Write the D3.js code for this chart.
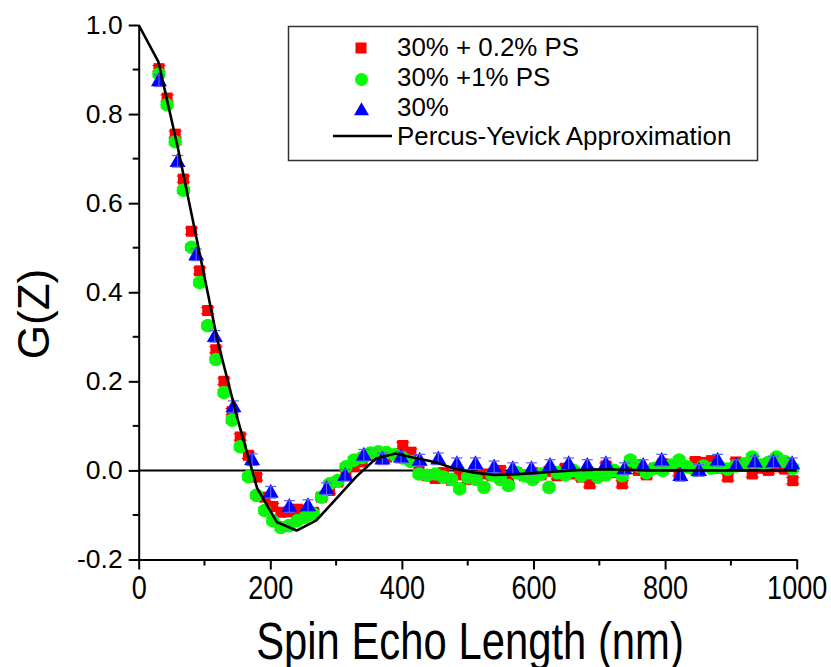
<!DOCTYPE html>
<html>
<head>
<meta charset="utf-8">
<script src="https://cdn.jsdelivr.net/npm/d3@7"></script>
<style>
  html, body { margin: 0; padding: 0; background: #fff; }
  svg { display: block; }
</style>
</head>
<body>
<svg id="chart" width="831" height="667"></svg>
<script>
// ---- data ----
const zFine = [30.8, 43.2, 55.5, 67.9, 80.2, 92.6, 104.9, 117.3, 129.6, 142.0, 154.3, 166.7, 179.0, 191.4, 203.7, 216.1, 228.4, 240.8, 253.1, 265.5, 277.8, 290.2, 302.5, 314.9, 327.2, 339.6, 351.9, 364.3, 376.6, 389.0, 401.3, 413.7, 426.0, 438.4, 450.7, 463.1, 475.4, 487.8, 500.1, 512.5, 524.8, 537.2, 549.5, 561.9, 574.2, 586.6, 598.9, 611.3, 623.6, 636.0, 648.3, 660.7, 673.0, 685.4, 697.7, 710.1, 722.4, 734.8, 747.1, 759.5, 771.8, 784.2, 796.5, 808.9, 821.2, 833.6, 845.9, 858.3, 870.6, 883.0, 895.3, 907.7, 920.0, 932.4, 944.7, 957.1, 969.4, 981.8, 994.1];

const gRed = [0.902, 0.836, 0.755, 0.654, 0.537, 0.448, 0.359, 0.271, 0.200, 0.132, 0.075, 0.034, -0.015, -0.060, -0.081, -0.094, -0.093, -0.087, -0.089, -0.094, -0.060, -0.045, -0.026, -0.008, 0.008, 0.019, 0.034, 0.032, 0.030, 0.036, 0.056, 0.041, 0.005, -0.012, -0.018, -0.005, -0.022, -0.010, -0.020, -0.015, -0.008, -0.012, 0.000, -0.022, -0.005, -0.012, -0.005, -0.010, -0.002, -0.012, 0.005, -0.008, -0.015, -0.030, -0.008, 0.010, -0.005, -0.030, 0.012, 0.000, -0.010, 0.005, 0.015, 0.010, -0.005, 0.008, 0.020, 0.018, 0.022, 0.005, -0.015, 0.019, 0.010, -0.008, 0.005, 0.000, 0.008, 0.003, -0.023];

const gGreen = [0.890, 0.821, 0.738, 0.629, 0.501, 0.422, 0.325, 0.249, 0.175, 0.113, 0.053, -0.014, -0.056, -0.090, -0.113, -0.128, -0.124, -0.113, -0.105, -0.098, -0.060, -0.030, -0.023, 0.008, 0.023, 0.029, 0.039, 0.042, 0.040, 0.035, 0.028, 0.020, -0.008, -0.011, -0.008, -0.015, -0.020, -0.041, -0.015, -0.020, -0.038, -0.010, -0.020, -0.034, -0.005, -0.012, -0.020, -0.008, -0.038, -0.005, -0.010, 0.000, -0.012, -0.005, -0.015, -0.010, 0.000, -0.012, 0.023, 0.010, -0.005, 0.005, 0.000, 0.012, 0.023, 0.008, 0.000, 0.010, 0.005, 0.008, 0.003, 0.010, 0.015, 0.030, 0.012, 0.018, 0.030, 0.020, 0.005];

const zCoarse = [30.8, 59.1, 87.4, 115.7, 144.0, 172.3, 200.6, 228.9, 257.2, 285.5, 313.8, 342.1, 370.4, 398.7, 427.0, 455.3, 483.6, 511.9, 540.2, 568.5, 596.8, 625.1, 653.4, 681.7, 710.0, 738.3, 766.6, 794.9, 823.2, 851.5, 879.8, 908.1, 936.4, 964.7, 993.0];

const gBlue = [0.875, 0.694, 0.484, 0.301, 0.143, 0.024, -0.049, -0.081, -0.079, -0.041, -0.011, 0.034, 0.026, 0.030, 0.023, 0.026, 0.015, 0.015, 0.008, 0.004, 0.004, 0.011, 0.015, 0.011, 0.015, 0.004, 0.011, 0.023, -0.011, 0.000, 0.023, 0.011, 0.019, 0.019, 0.015];

const zPY = [0, 30, 60, 90, 120, 150, 180, 210, 240, 270, 300, 330, 360, 390, 420, 450, 480, 510, 540, 570, 600, 630, 660, 690, 720, 750, 780, 810, 840, 870, 900, 930, 960, 990, 1000];
const gPY = [1.0, 0.917, 0.721, 0.506, 0.290, 0.117, -0.040, -0.116, -0.135, -0.112, -0.064, -0.015, 0.026, 0.038, 0.028, 0.019, 0.004, -0.005, -0.010, -0.009, -0.006, -0.003, 0.000, 0.002, 0.002, 0.001, 0.000, 0.000, 0.000, 0.000, 0.000, 0.000, 0.000, 0.000, 0.000];

const xTicks = [0, 200, 400, 600, 800, 1000];
const yTicks = [-0.2, 0.0, 0.2, 0.4, 0.6, 0.8, 1.0];
const legendLabels = ["30% + 0.2% PS", "30% +1% PS", "30%", "Percus-Yevick Approximation"];
const xTitle = "Spin Echo Length (nm)";
const yTitle = "G(Z)";

// ---- layout ----
const svg = d3.select("#chart");
const x = d3.scaleLinear().domain([0, 1000]).range([138.7, 796.7]);
const y = d3.scaleLinear().domain([-0.2, 1.0]).range([559.5, 25]);

const sansFont = "'Liberation Sans', Arial, Helvetica, sans-serif";
const narrow = 0.82; // horizontal condensing for the narrow-looking axis texts

// zero line
svg.append("line")
  .attr("x1", x(0)).attr("x2", x(1000))
  .attr("y1", y(0)).attr("y2", y(0))
  .attr("stroke", "#000").attr("stroke-width", 2);

// markers
const gMarks = svg.append("g");
function errBars(xs, ys, err, color, cap) {
  const g = gMarks.append("g").attr("stroke", color).attr("stroke-width", 1.2);
  xs.forEach((xv, i) => {
    const cx = x(xv), y1 = y(ys[i] - err), y2 = y(ys[i] + err);
    g.append("line").attr("x1", cx).attr("x2", cx).attr("y1", y1).attr("y2", y2);
    g.append("line").attr("x1", cx - cap / 2).attr("x2", cx + cap / 2).attr("y1", y1).attr("y2", y1);
    g.append("line").attr("x1", cx - cap / 2).attr("x2", cx + cap / 2).attr("y1", y2).attr("y2", y2);
  });
}

const sq = 11;
gMarks.append("g").selectAll("rect").data(zFine.map((z, i) => [z, gRed[i]])).join("rect")
  .attr("x", d => x(d[0]) - sq / 2).attr("y", d => y(d[1]) - sq / 2)
  .attr("width", sq).attr("height", sq).attr("fill", "#ff0000");
errBars(zFine, gRed, 0.007, "#ff0000", 13);

gMarks.append("g").selectAll("circle").data(zFine.map((z, i) => [z, gGreen[i]])).join("circle")
  .attr("cx", d => x(d[0])).attr("cy", d => y(d[1]))
  .attr("r", 6.8).attr("fill", "#00ff00");
errBars(zFine, gGreen, 0.007, "#22dd22", 13);

const triW = 16, triH = 14;
function triPath(cx, cy, w, h) {
  return `M${cx},${cy - h * 0.6}L${cx + w / 2},${cy + h * 0.4}L${cx - w / 2},${cy + h * 0.4}Z`;
}
gMarks.append("g").selectAll("path").data(zCoarse.map((z, i) => [z, gBlue[i]])).join("path")
  .attr("d", d => triPath(x(d[0]), y(d[1]), triW, triH)).attr("fill", "#0000ff");
errBars(zCoarse, gBlue, 0.013, "#5a5aff", 11);

// PY line
svg.append("path")
  .datum(zPY.map((z, i) => [z, gPY[i]]))
  .attr("fill", "none").attr("stroke", "#000").attr("stroke-width", 2.6)
  .attr("stroke-linejoin", "round")
  .attr("d", d3.line().x(d => x(d[0])).y(d => y(d[1])));

// axes
const yAxis = d3.axisLeft(y).tickValues(yTicks).tickSize(10).tickSizeOuter(0).tickPadding(6)
  .tickFormat(d => d.toFixed(1));
const gy = svg.append("g").attr("transform", `translate(${x(0)},0)`).call(yAxis);
gy.selectAll("text").attr("font-family", sansFont).attr("font-size", 26.5).attr("fill", "#000");

const xAxis = d3.axisBottom(x).tickValues(xTicks).tickSize(10).tickSizeOuter(0).tickPadding(6.5)
  .tickFormat(d => String(d));
const gx = svg.append("g").attr("transform", `translate(0,${y(-0.2)})`).call(xAxis);
gx.selectAll("text").attr("font-family", sansFont).attr("font-size", 33).attr("fill", "#000")
  .attr("transform", `scale(${narrow},1)`);

[gx, gy].forEach(g => {
  g.select(".domain").attr("stroke", "#000").attr("stroke-width", 2);
  g.selectAll(".tick line").attr("stroke", "#000").attr("stroke-width", 2);
});

// minor ticks
const yMinor = [-0.1, 0.1, 0.3, 0.5, 0.7, 0.9];
const xMinor = [100, 300, 500, 700, 900];
svg.append("g").selectAll("line").data(yMinor).join("line")
  .attr("x1", x(0) - 6).attr("x2", x(0)).attr("y1", d => y(d)).attr("y2", d => y(d))
  .attr("stroke", "#000").attr("stroke-width", 2);
svg.append("g").selectAll("line").data(xMinor).join("line")
  .attr("x1", d => x(d)).attr("x2", d => x(d)).attr("y1", y(-0.2)).attr("y2", y(-0.2) + 6)
  .attr("stroke", "#000").attr("stroke-width", 2);

// titles
svg.append("text").attr("transform", `translate(470,659) scale(${narrow},1)`).attr("text-anchor", "middle")
  .attr("font-family", sansFont).attr("font-size", 51).attr("fill", "#000").text(xTitle);
svg.append("text").attr("transform", "translate(49,314) rotate(-90)").attr("text-anchor", "middle")
  .attr("font-family", sansFont).attr("font-size", 44).attr("fill", "#000").text(yTitle);

// legend
const lg = svg.append("g");
lg.append("rect").attr("x", 288.5).attr("y", 26.5).attr("width", 469).attr("height", 134)
  .attr("fill", "#fff").attr("stroke", "#333").attr("stroke-width", 1.5);
const baselines = [56, 86, 115.5, 145];
lg.append("rect").attr("x", 361 - sq / 2).attr("y", 48 - sq / 2).attr("width", sq).attr("height", sq).attr("fill", "#ff0000");
lg.append("circle").attr("cx", 361.5).attr("cy", 79.5).attr("r", 6.5).attr("fill", "#00ff00");
lg.append("path").attr("d", triPath(361.5, 110, 15, 13)).attr("fill", "#0000ff");
lg.append("line").attr("x1", 333).attr("x2", 392).attr("y1", 136).attr("y2", 136).attr("stroke", "#000").attr("stroke-width", 2.6);
legendLabels.forEach((t, i) => {
  lg.append("text").attr("x", 397).attr("y", baselines[i])
    .attr("font-family", sansFont).attr("font-size", 25.9).attr("fill", "#000").text(t);
});
</script>
</body>
</html>
